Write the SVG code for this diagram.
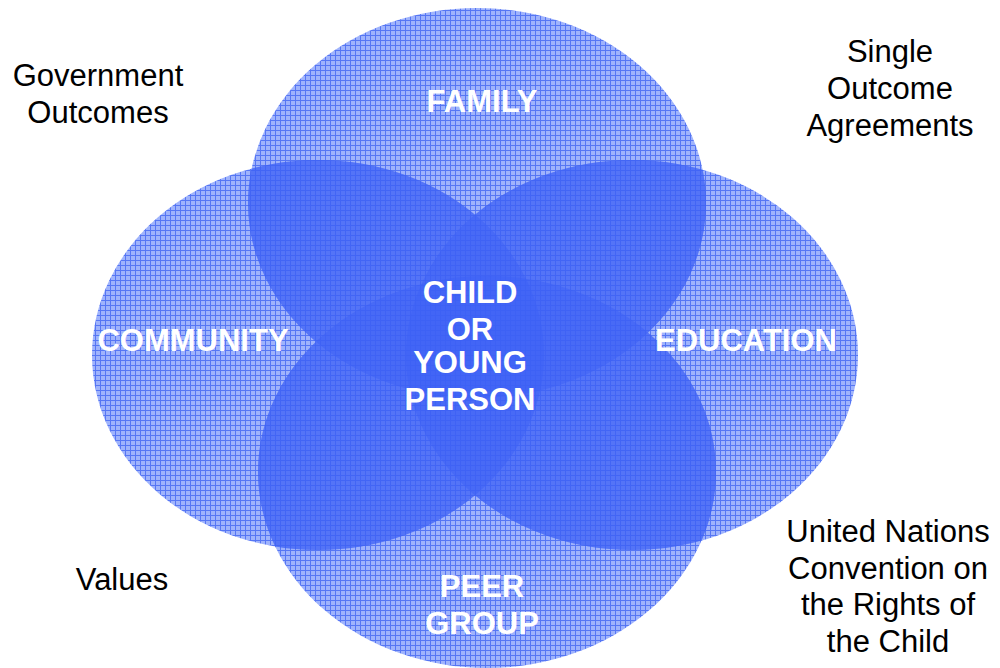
<svg xmlns="http://www.w3.org/2000/svg" width="1000" height="668" viewBox="0 0 1000 668">
<defs>
<pattern id="grid" width="5" height="5" patternUnits="userSpaceOnUse">
<rect width="5" height="5" fill="#9fb3fc"/>
<path d="M0 0.5H5M0.5 0V5" stroke="#5676f4" stroke-width="1" fill="none"/>
</pattern>
<clipPath id="notF">
<ellipse cx="318" cy="355" rx="226" ry="195"/>
<ellipse cx="632" cy="355" rx="226" ry="195"/>
<ellipse cx="487" cy="472" rx="229" ry="196"/>
</clipPath>
<clipPath id="notC">
<ellipse cx="477" cy="203" rx="229" ry="195"/>
<ellipse cx="632" cy="355" rx="226" ry="195"/>
<ellipse cx="487" cy="472" rx="229" ry="196"/>
</clipPath>
<clipPath id="notE">
<ellipse cx="477" cy="203" rx="229" ry="195"/>
<ellipse cx="318" cy="355" rx="226" ry="195"/>
<ellipse cx="487" cy="472" rx="229" ry="196"/>
</clipPath>
<clipPath id="notP">
<ellipse cx="477" cy="203" rx="229" ry="195"/>
<ellipse cx="318" cy="355" rx="226" ry="195"/>
<ellipse cx="632" cy="355" rx="226" ry="195"/>
</clipPath>
</defs>
<style>
.c{fill:url(#grid)}
.o{fill:#3c5ff6;fill-opacity:0.5}
.lb{font-family:"Liberation Sans",Arial,sans-serif;font-weight:bold;font-size:31px;fill:#ffffff;text-anchor:middle}
.ot{font-family:"Liberation Sans",Arial,sans-serif;font-size:31px;fill:#000000;text-anchor:middle}
</style>
<rect width="1000" height="668" fill="#ffffff"/>
<g id="circles">
<g id="family"><ellipse class="c" cx="477" cy="203" rx="229" ry="195"/></g>
<g id="community"><ellipse class="c" cx="318" cy="355" rx="226" ry="195"/></g>
<g id="education"><ellipse class="c" cx="632" cy="355" rx="226" ry="195"/></g>
<g id="peer"><ellipse class="c" cx="487" cy="472" rx="229" ry="196"/></g>
</g>
<g id="overlaps">
<ellipse class="o" cx="477" cy="203" rx="229" ry="195" clip-path="url(#notF)"/>
<ellipse class="o" cx="318" cy="355" rx="226" ry="195" clip-path="url(#notC)"/>
<ellipse class="o" cx="632" cy="355" rx="226" ry="195" clip-path="url(#notE)"/>
<ellipse class="o" cx="487" cy="472" rx="229" ry="196" clip-path="url(#notP)"/>
</g>
<g id="labels">
<text class="lb" x="482" y="112">FAMILY</text>
<text class="lb" x="193" y="351">COMMUNITY</text>
<text class="lb" x="746" y="351">EDUCATION</text>
<text class="lb" x="482" y="597">PEER</text>
<text class="lb" x="482" y="634">GROUP</text>
<text class="lb" x="470" y="303">CHILD</text>
<text class="lb" x="470" y="340">OR</text>
<text class="lb" x="470" y="373">YOUNG</text>
<text class="lb" x="470" y="410">PERSON</text>
</g>
<g id="outer">
<text class="ot" x="98" y="86">Government</text>
<text class="ot" x="98" y="123">Outcomes</text>
<text class="ot" x="890" y="62">Single</text>
<text class="ot" x="890" y="99">Outcome</text>
<text class="ot" x="890" y="136">Agreements</text>
<text class="ot" x="122" y="590">Values</text>
<text class="ot" x="888" y="542">United Nations</text>
<text class="ot" x="888" y="579">Convention on</text>
<text class="ot" x="888" y="615">the Rights of</text>
<text class="ot" x="888" y="652">the Child</text>
</g>
</svg>
